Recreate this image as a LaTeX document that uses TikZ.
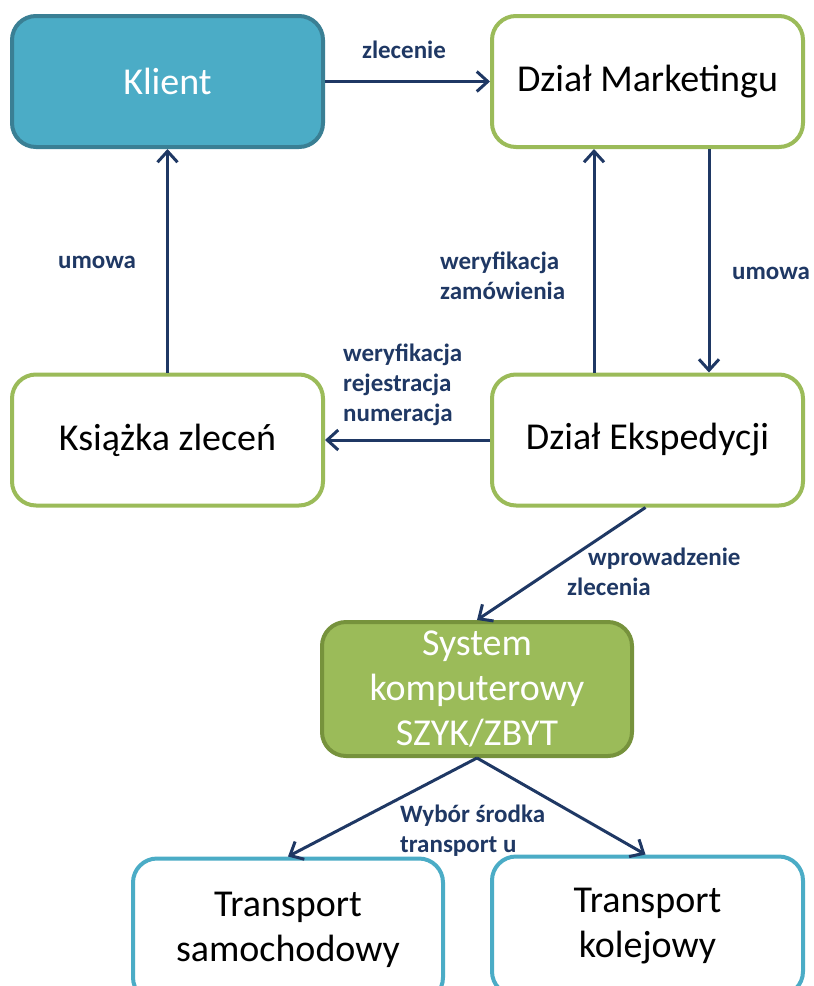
\documentclass[tikz,border=0pt]{standalone}
\usepackage{fontspec}
\setmainfont{Carlito}
\usetikzlibrary{arrows.meta}
\definecolor{navy}{HTML}{1F3864}
\definecolor{aqua}{HTML}{4BACC6}
\definecolor{aquadark}{HTML}{3A7F94}
\definecolor{olive}{HTML}{9BBB59}
\definecolor{olivedark}{HTML}{76923C}
\begin{document}
\begin{tikzpicture}[x=1pt,y=-1pt,
  box/.style={rectangle, rounded corners=24pt, line width=4pt, fill=white,
    minimum width=311pt, minimum height=131pt, align=center,
    font=\fontsize{38}{45}\selectfont, inner sep=0pt},
  greenbox/.style={box, draw=olive},
  bluebox/.style={box, draw=aqua},
  arr/.style={draw=navy, line width=3pt, -{Straight Barb[length=11pt,width=20pt,line width=3pt]}},
  lbl/.style={text=navy, font=\bfseries\fontsize{25}{30}\selectfont, inner sep=0pt}]
\useasboundingbox (0,0) rectangle (814,986);

% process boxes
\node[box, draw=aquadark, fill=aqua, text=white] (klient) at (167.5,81.5) {Klient};
\node[greenbox] (mark) at (647.5,81.5) {Dział Marketingu};
\node[greenbox] (ksiazka) at (167.5,440) {Książka zleceń};
\node[greenbox] (eksp) at (647.5,440) {Dział Ekspedycji};
\node[box, draw=olivedark, fill=olive, text=white, minimum width=310pt, minimum height=134pt]
  (system) at (477,689) {System\\komputerowy\\SZYK/ZBYT};
% transport boxes run off the lower edge of the page
\node[bluebox, minimum width=310pt, minimum height=143pt] (samoch) at (288,930) {Transport\\samochodowy};
\node[bluebox, minimum height=139pt] (kolej) at (647.5,926) {Transport\\kolejowy};

% connectors
\draw[arr] (klient.east) -- (mark.west);
\draw[arr] (ksiazka.north) -- (klient.south);
\draw[arr] ([xshift=-53.5pt]eksp.north) -- ([xshift=-53.5pt]mark.south);
\draw[arr] ([xshift=61.5pt]mark.south) -- ([xshift=61.5pt]eksp.north);
\draw[arr] (eksp.west) -- (ksiazka.east);
\draw[arr] ([xshift=-2pt]eksp.south) -- (system.north);
\draw[arr] (system.south) -- (samoch.north);
\draw[arr] (system.south) -- ([xshift=-2pt]kolej.north);

% connector labels
\node[lbl] (l1) at (404,50) {zlecenie};
\node[lbl] (l2) at (97,262) {umowa};
\node[lbl, align=left, anchor=west] (l3) at (440,276) {weryfikacja\\zamówienia};
\node[lbl] (l4) at (771,273) {umowa};
\node[lbl, align=left, anchor=west] (l5) at (343,385) {weryfikacja\\rejestracja\\numeracja};
\node[lbl, align=left, anchor=west] (l6) at (567,572) {\hspace*{21pt}wprowadzenie\\zlecenia};
\node[lbl, align=left, anchor=west] (l7) at (400,831) {Wybór środka\\transport u};
\end{tikzpicture}
\end{document}
